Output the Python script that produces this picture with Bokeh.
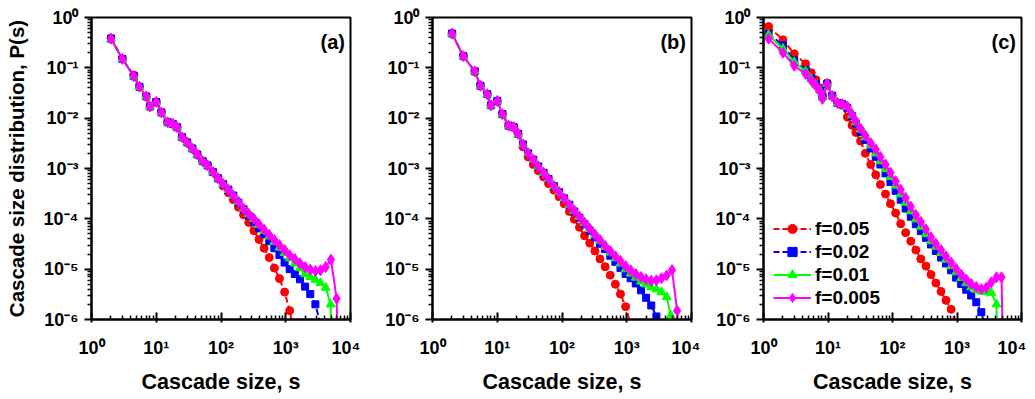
from bokeh.plotting import figure
from bokeh.layouts import row
from bokeh.models import FixedTicker, Label, Legend, LegendItem
from bokeh.embed import file_html
from bokeh.resources import INLINE

FONT = "Liberation Sans"

# ---------------- data ----------------
series_labels = ["f=0.05", "f=0.02", "f=0.01", "f=0.005"]
panel_letters = ["(a)", "(b)", "(c)"]
x_ticks = [1, 10, 100, 1000, 10000]
x_tick_labels = ["10⁰", "10¹", "10²", "10³", "10⁴"]
y_ticks = [1e-6, 1e-5, 1e-4, 1e-3, 1e-2, 1e-1, 1]
y_tick_labels = ["10⁻⁶", "10⁻⁵", "10⁻⁴", "10⁻³", "10⁻²", "10⁻¹", "10⁰"]

# panel (a)
a_s = [2, 3, 4.5, 5.5, 7, 8, 10, 12, 15, 18, 21, 25, 30, 36, 43, 52, 62, 75, 90, 108,
       130, 155, 186, 223, 268, 322, 386, 463, 556, 667, 800, 960, 1150, 1380, 1660, 1990,
       2390, 2870, 3440, 4130]
a_f005 = [0.39, 0.15, 0.072, 0.042, 0.027, 0.017, 0.021, 0.013, 0.0083, 0.0077,
          0.0066, 0.0042, 0.0033, 0.0025, 0.0019, 0.0014, 0.00115, 0.00085, 0.00063, 4.5e-4,
          3.3e-4, 2.4e-4, 1.7e-4, 1.2e-4, 8.5e-5, 5.8e-5, 3.9e-5, 2.6e-5, 1.7e-5, 1.05e-5,
          6.5e-6, 3.5e-6, 1.5e-6, 5e-7]
a_f005_end = []
a_f002 = [0.38, 0.15, 0.068, 0.042, 0.027, 0.017, 0.021, 0.013, 0.0083, 0.0077,
          0.0066, 0.0042, 0.0033, 0.0025, 0.0019, 0.0014, 0.00115, 0.00085, 0.00064, 4.9e-4,
          3.8e-4, 2.9e-4, 2.1e-4, 1.55e-4, 1.15e-4, 8.7e-5, 6.5e-5, 4.9e-5, 3.6e-5, 2.6e-5,
          1.9e-5, 1.35e-5, 1.0e-5, 8e-6, 6.3e-6, 4.5e-6, 3.2e-6, 2e-6, 8e-7]
a_f002_end = []
a_f001 = [0.38, 0.15, 0.068, 0.042, 0.027, 0.017, 0.021, 0.013, 0.0083, 0.0077,
          0.0066, 0.0042, 0.0033, 0.0025, 0.0019, 0.0014, 0.00115, 0.00085, 0.00064, 4.9e-4,
          3.8e-4, 2.9e-4, 2.2e-4, 1.6e-4, 1.25e-4, 1.0e-4, 7.6e-5, 5.8e-5, 4.5e-5, 3.5e-5,
          2.7e-5, 2.1e-5, 1.65e-5, 1.3e-5, 1.05e-5, 8e-6, 7e-6, 6.2e-6, 5.3e-6, 4.3e-6,
          2e-6, 5e-7]
a_f001_end = [4950, 5000]
a_f0005 = [0.38, 0.15, 0.068, 0.042, 0.027, 0.017, 0.021, 0.013, 0.0083, 0.0077,
           0.0066, 0.0042, 0.0033, 0.0025, 0.0019, 0.0014, 0.00115, 0.00085, 0.00064, 4.9e-4,
           3.8e-4, 2.9e-4, 2.2e-4, 1.6e-4, 1.25e-4, 1.0e-4, 7.8e-5, 6.1e-5, 4.8e-5, 3.8e-5,
           3.0e-5, 2.4e-5, 1.9e-5, 1.6e-5, 1.3e-5, 1.1e-5, 9.8e-6, 9.2e-6, 9.5e-6, 1.1e-5,
           1.55e-5, 2.6e-6, 5e-7]
a_f0005_end = [5000, 6100, 6300]

# panel (b)
b_s = [2, 3, 4.5, 5.5, 7, 8, 10, 12, 15, 18, 21, 25, 30, 36, 43, 52, 62, 75, 90, 108,
       130, 155, 186, 223, 268, 322, 386, 463, 556, 667, 800, 960, 1150, 1380, 1660, 1990,
       2390, 2870, 3440, 4130]
b_f005 = [0.48, 0.17, 0.085, 0.044, 0.030, 0.018, 0.022, 0.012, 0.0071, 0.0066,
          0.0049, 0.0027, 0.0017, 0.0012, 9e-4, 6.8e-4, 5e-4, 3.7e-4, 2.75e-4, 2e-4,
          1.4e-4, 9.8e-5, 6.8e-5, 4.6e-5, 3.3e-5, 2.3e-5, 1.6e-5, 1.12e-5, 7.6e-6, 5e-6,
          3.2e-6, 1.8e-6, 8e-7]
b_f005_end = []
b_f002 = [0.48, 0.17, 0.085, 0.044, 0.030, 0.018, 0.022, 0.012, 0.0071, 0.0066,
          0.0049, 0.0030, 0.0020, 0.0015, 0.0011, 8.2e-4, 6.2e-4, 4.5e-4, 3.4e-4, 2.55e-4,
          1.9e-4, 1.4e-4, 1.05e-4, 7.8e-5, 5.8e-5, 4.3e-5, 3.2e-5, 2.5e-5, 1.85e-5, 1.4e-5,
          1.05e-5, 8e-6, 6.6e-6, 5.2e-6, 3.8e-6, 2.7e-6, 1.9e-6, 1.15e-6, 5e-7]
b_f002_end = []
b_f001 = [0.48, 0.17, 0.085, 0.044, 0.030, 0.018, 0.022, 0.012, 0.0071, 0.0066,
          0.0049, 0.0030, 0.0020, 0.0015, 0.0011, 8.2e-4, 6.2e-4, 4.5e-4, 3.4e-4, 2.55e-4,
          1.9e-4, 1.45e-4, 1.1e-4, 8.3e-5, 6.3e-5, 4.8e-5, 3.7e-5, 2.8e-5, 2.15e-5, 1.65e-5,
          1.3e-5, 1.0e-5, 8.2e-6, 6.8e-6, 5.7e-6, 5e-6, 4.4e-6, 4e-6, 3.5e-6, 2.8e-6,
          1.2e-6, 5e-7]
b_f001_end = [4800, 4850]
b_f0005 = [0.48, 0.17, 0.085, 0.044, 0.030, 0.018, 0.022, 0.012, 0.0071, 0.0066,
           0.0049, 0.0030, 0.0020, 0.0015, 0.0011, 8.2e-4, 6.2e-4, 4.5e-4, 3.4e-4, 2.55e-4,
           1.9e-4, 1.45e-4, 1.1e-4, 8.4e-5, 6.4e-5, 4.9e-5, 3.8e-5, 2.9e-5, 2.3e-5, 1.8e-5,
           1.45e-5, 1.15e-5, 9.5e-6, 8e-6, 7e-6, 6.3e-6, 5.9e-6, 6e-6, 6.6e-6, 7.5e-6,
           9.6e-6, 1.5e-6, 5e-7]
b_f0005_end = [5000, 6000, 6100]

# panel (c)
c_s = [1.2, 2, 3, 4.5, 5.5, 6.5, 7.5, 8.2, 9.7, 11.6, 14, 16.6, 20, 23.6, 27, 32, 38, 46,
       55, 65, 78, 93, 112, 134, 160, 192, 230, 275, 330, 395, 470, 565, 675, 810, 970,
       1160, 1390, 1660, 1990, 2380, 2850, 3400, 4100, 4900]
c_f005 = [0.66, 0.36, 0.19, 0.12, 0.08, 0.058, 0.04, 0.028, 0.05, 0.028,
          0.02, 0.018, 0.0105, 0.0072, 0.0052, 0.0035, 0.002, 0.0012, 7.5e-4, 4.8e-4,
          3.1e-4, 2e-4, 1.3e-4, 8e-5, 5.3e-5, 3.6e-5, 2.4e-5, 1.6e-5, 1.15e-5, 7.8e-6,
          5.3e-6, 3.6e-6, 2.4e-6, 1.6e-6, 8e-7]
c_f005_end = []
c_f002 = [0.47, 0.28, 0.14, 0.09, 0.062, 0.047, 0.037, 0.027, 0.048, 0.028,
          0.020, 0.019, 0.016, 0.011, 0.0078, 0.0053, 0.0037, 0.0025, 0.0017, 0.0012,
          8e-4, 5.4e-4, 3.6e-4, 2.4e-4, 1.6e-4, 1.1e-4, 7.8e-5, 5.7e-5, 4.2e-5, 3.1e-5,
          2.3e-5, 1.7e-5, 1.3e-5, 9.5e-6, 6.8e-6, 5.1e-6, 3.9e-6, 3e-6, 2.2e-6, 1.4e-6,
          6e-7]
c_f002_end = []
c_f001 = [0.45, 0.24, 0.13, 0.085, 0.06, 0.046, 0.036, 0.026, 0.048, 0.028,
          0.020, 0.019, 0.017, 0.0115, 0.0083, 0.006, 0.0042, 0.0029, 0.002, 0.0014,
          9.8e-4, 6.8e-4, 4.6e-4, 3.1e-4, 2.1e-4, 1.42e-4, 9.8e-5, 7e-5, 5e-5, 3.6e-5,
          2.8e-5, 2.1e-5, 1.55e-5, 1.15e-5, 8.7e-6, 6.7e-6, 5.3e-6, 4.4e-6, 3.9e-6, 3.6e-6,
          3.5e-6, 3.4e-6, 2e-6, 5e-7]
c_f001_end = [4150]
c_f0005 = [0.38, 0.20, 0.11, 0.075, 0.056, 0.044, 0.034, 0.024, 0.047, 0.027,
           0.020, 0.019, 0.017, 0.012, 0.0088, 0.0062, 0.0045, 0.0032, 0.0024, 0.0017,
           0.0012, 8.3e-4, 5.6e-4, 3.8e-4, 2.6e-4, 1.75e-4, 1.2e-4, 8.7e-5, 6.2e-5, 4.3e-5,
           3.2e-5, 2.4e-5, 1.8e-5, 1.35e-5, 1.02e-5, 7.8e-6, 6.2e-6, 5.1e-6, 4.4e-6, 4e-6,
           4.3e-6, 5.5e-6, 6.9e-6, 6.9e-6, 5e-7]
c_f0005_end = [5100]

panels_data = [
    (a_s, [(a_f005, a_f005_end), (a_f002, a_f002_end), (a_f001, a_f001_end), (a_f0005, a_f0005_end)]),
    (b_s, [(b_f005, b_f005_end), (b_f002, b_f002_end), (b_f001, b_f001_end), (b_f0005, b_f0005_end)]),
    (c_s, [(c_f005, c_f005_end), (c_f002, c_f002_end), (c_f001, c_f001_end), (c_f0005, c_f0005_end)]),
]

# ---------------- styling ----------------
styles = [
    dict(color="#ff0000", marker="circle", size=8, dash="6 3"),
    dict(color="#0000ff", marker="square", size=7, dash="6 3"),
    dict(color="#00ff00", marker="triangle", size=9, dash="solid"),
    dict(color="#ff00ff", marker="diamond", size=11, dash="solid"),
]

x_minor = [m * 10 ** k for k in range(0, 4) for m in range(2, 10)]
y_minor = [m * 10.0 ** k for k in range(-6, 0) for m in range(2, 10)]

layout_spec = [
    dict(left=91, right=10, fw=259),
    dict(left=72, right=9, fw=259),
    dict(left=63, right=5, fw=258),
]


def make_panel(idx):
    spec = layout_spec[idx]
    s_vals, series = panels_data[idx]
    p = figure(x_axis_type="log", y_axis_type="log", x_range=(1, 1e4), y_range=(1e-6, 1),
               frame_width=spec["fw"], frame_height=302,
               min_border_left=spec["left"], min_border_right=spec["right"],
               min_border_top=17, min_border_bottom=74,
               output_backend="svg", toolbar_location=None)
    p.grid.visible = False
    p.outline_line_color = "black"
    p.outline_line_width = 2
    p.background_fill_color = "white"
    p.border_fill_color = "white"

    p.xaxis.ticker = FixedTicker(ticks=x_ticks, minor_ticks=x_minor)
    p.yaxis.ticker = FixedTicker(ticks=y_ticks, minor_ticks=y_minor)
    p.xaxis.major_label_overrides = {t: l for t, l in zip(x_ticks, x_tick_labels)}
    p.yaxis.major_label_overrides = {t: l for t, l in zip(y_ticks, y_tick_labels)}

    for ax in (p.xaxis, p.yaxis):
        ax.axis_line_width = 2
        ax.axis_line_color = "black"
        ax.major_tick_line_width = 2
        ax.minor_tick_line_width = 1.5
        ax.major_tick_line_color = "black"
        ax.minor_tick_line_color = "black"
        ax.major_label_text_font = FONT
        ax.major_label_text_font_style = "bold"
        ax.major_label_text_font_size = "18px"
        ax.major_label_text_color = "black"
        ax.axis_label_text_font = FONT
        ax.axis_label_text_font_style = "bold"
        ax.axis_label_text_color = "black"

    p.xaxis.major_tick_in = 7
    p.xaxis.major_tick_out = 3
    p.xaxis.minor_tick_in = 4
    p.xaxis.minor_tick_out = 0
    p.xaxis.major_label_standoff = 15
    p.xaxis.axis_label = "Cascade size, s"
    p.xaxis.axis_label_text_font_size = "21.5px"
    p.xaxis.axis_label_standoff = 9

    p.yaxis.major_tick_in = 0
    p.yaxis.major_tick_out = 7
    p.yaxis.minor_tick_in = 0
    p.yaxis.minor_tick_out = 4
    p.yaxis.major_label_standoff = 6
    if idx == 0:
        p.yaxis.axis_label = "Cascade size distribution, P(s)"
        p.yaxis.axis_label_text_font_size = "20.5px"
        p.yaxis.axis_label_standoff = 13

    items = []
    for (yv, end), st, lab in zip(series, styles, series_labels):
        n = len(yv) - len(end)
        xv = list(s_vals[:n]) + list(end)
        lr = p.line(xv, yv, line_color=st["color"], line_width=2, line_dash=st["dash"])
        sr = p.scatter(xv, yv, marker=st["marker"], size=st["size"],
                       fill_color=st["color"], line_color=st["color"])
        items.append(LegendItem(label=lab, renderers=[lr, sr]))

    p.add_layout(Label(x=8200, y=0.33, text=panel_letters[idx], text_align="right",
                       text_baseline="middle", text_font=FONT, text_font_style="bold",
                       text_font_size="20px", text_color="black"))

    if idx == 2:
        leg = Legend(items=items, location=(10, 10), orientation="vertical",
                     label_text_font=FONT, label_text_font_style="bold",
                     label_text_font_size="19px", label_text_color="black",
                     glyph_width=38, glyph_height=23, label_height=23, spacing=0,
                     padding=0, margin=0, label_standoff=4,
                     border_line_color=None, background_fill_alpha=0)
        p.add_layout(leg)
    return p


panels = [make_panel(i) for i in range(3)]
layout = row(*panels)
open("out.html", "w").write(file_html(layout, INLINE))
